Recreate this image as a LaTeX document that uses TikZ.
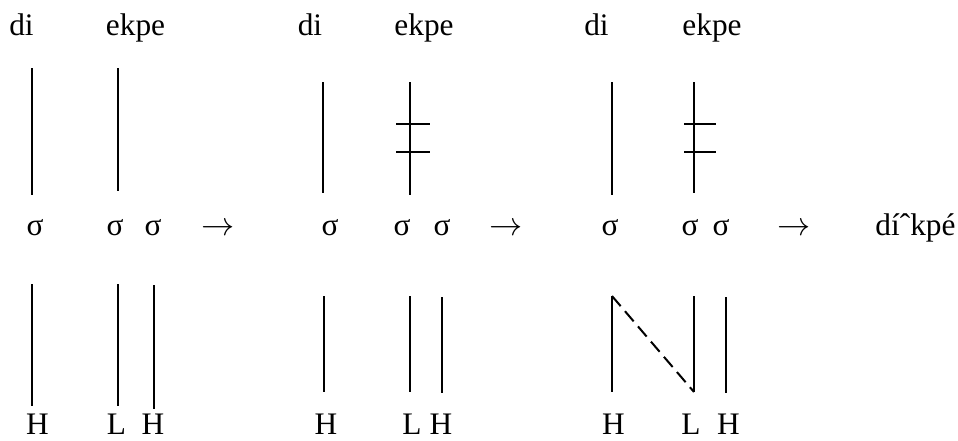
\documentclass[tikz,border=0pt]{standalone}
\usepackage{fontspec}
\setmainfont{Liberation Serif}
\begin{document}
\begin{tikzpicture}[x=0.75pt,y=-0.75pt,
  lbl/.style={anchor=base,inner sep=0pt,font=\fontsize{23.5}{27}\selectfont},
  assoc/.style={line width=1.5pt},
  delink/.style={line width=1.5pt},
  newlink/.style={line width=1.5pt,dash pattern=on 10pt off 5pt}]
\useasboundingbox (0,0) rectangle (958,440);
% ---------- row 1: words ----------
\node[lbl] (di1) at (21.5,35) {di};
\node[lbl] (ek1) at (135.5,35) {ekpe};
\node[lbl] (di2) at (310,35) {di};
\node[lbl] (ek2) at (424,35) {ekpe};
\node[lbl] (di3) at (596.5,35) {di};
\node[lbl] (ek3) at (712,35) {ekpe};
% ---------- row 2: syllables ----------
\node[lbl] (s1a) at (35,235) {σ};
\node[lbl] (s1b) at (115,235) {σ};
\node[lbl] (s1c) at (153,235) {σ};
\node[lbl] (ar1) at (218,235) {\(\rightarrow\)};
\node[lbl] (s2a) at (330,235) {σ};
\node[lbl] (s2b) at (402,235) {σ};
\node[lbl] (s2c) at (442,235) {σ};
\node[lbl] (ar2) at (506,235) {\(\rightarrow\)};
\node[lbl] (s3a) at (610,235) {σ};
\node[lbl] (s3b) at (690,235) {σ};
\node[lbl] (s3c) at (721,235) {σ};
\node[lbl] (ar3) at (794,235) {\(\rightarrow\)};
\node[lbl] (out) at (915.5,235) {díˆkpé};
% ---------- row 3: tones ----------
\node[lbl] (t1a) at (37.5,434.5) {H};
\node[lbl] (t1b) at (116.5,434.5) {L};
\node[lbl] (t1c) at (153,434.5) {H};
\node[lbl] (t2a) at (326,434.5) {H};
\node[lbl] (t2b) at (412,434.5) {L};
\node[lbl] (t2c) at (441,434.5) {H};
\node[lbl] (t3a) at (613.5,434.5) {H};
\node[lbl] (t3b) at (691,434.5) {L};
\node[lbl] (t3c) at (728.5,434.5) {H};
% ---------- upper association lines ----------
\coordinate (u1aT) at (32,68);  \coordinate (u1aB) at (32,195);
\coordinate (u1bT) at (118,68); \coordinate (u1bB) at (118,191);
\coordinate (u2aT) at (323,82); \coordinate (u2aB) at (323,193);
\coordinate (u2bT) at (410,82); \coordinate (u2bB) at (410,195);
\coordinate (u3aT) at (612,82); \coordinate (u3aB) at (612,195);
\coordinate (u3bT) at (694,82); \coordinate (u3bB) at (694,193);
\draw[assoc] (u1aT) -- (u1aB);
\draw[assoc] (u1bT) -- (u1bB);
\draw[assoc] (u2aT) -- (u2aB);
\draw[assoc] (u2bT) -- (u2bB);
\draw[assoc] (u3aT) -- (u3aB);
\draw[assoc] (u3bT) -- (u3bB);
% delinking ticks
\coordinate (k2aL) at (396,124); \coordinate (k2aR) at (430,124);
\coordinate (k2bL) at (396,152); \coordinate (k2bR) at (430,152);
\coordinate (k3aL) at (684,124); \coordinate (k3aR) at (716,124);
\coordinate (k3bL) at (684,152); \coordinate (k3bR) at (716,152);
\draw[delink] (k2aL) -- (k2aR);
\draw[delink] (k2bL) -- (k2bR);
\draw[delink] (k3aL) -- (k3aR);
\draw[delink] (k3bL) -- (k3bR);
% ---------- lower association lines ----------
\coordinate (l1aT) at (32,284);  \coordinate (l1aB) at (32,406);
\coordinate (l1bT) at (118,284); \coordinate (l1bB) at (118,406);
\coordinate (l1cT) at (154,285); \coordinate (l1cB) at (154,409);
\coordinate (l2aT) at (324,296); \coordinate (l2aB) at (324,392);
\coordinate (l2bT) at (410,296); \coordinate (l2bB) at (410,392);
\coordinate (l2cT) at (442,297); \coordinate (l2cB) at (442,393);
\coordinate (l3aT) at (612,296); \coordinate (l3aB) at (612,392);
\coordinate (l3bT) at (694,296); \coordinate (l3bB) at (694,392);
\coordinate (l3cT) at (726,297); \coordinate (l3cB) at (726,393);
\draw[assoc] (l1aT) -- (l1aB);
\draw[assoc] (l1bT) -- (l1bB);
\draw[assoc] (l1cT) -- (l1cB);
\draw[assoc] (l2aT) -- (l2aB);
\draw[assoc] (l2bT) -- (l2bB);
\draw[assoc] (l2cT) -- (l2cB);
\draw[assoc] (l3aT) -- (l3aB);
\draw[assoc] (l3bT) -- (l3bB);
\draw[assoc] (l3cT) -- (l3cB);
\draw[newlink] (l3aT) -- (l3bB);
\end{tikzpicture}
\end{document}
